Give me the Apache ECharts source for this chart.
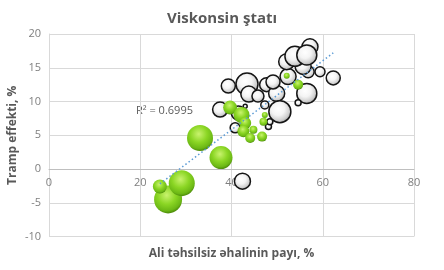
<!DOCTYPE html>
<html>
<head>
<meta charset="utf-8">
<script src="https://cdn.jsdelivr.net/npm/echarts@6/dist/echarts.min.js"></script>
<style>html,body{margin:0;padding:0;background:#fff}#c{width:444px;height:270px}</style>
</head>
<body>
<div id="c"></div>
<script>
// ---- data ----
const titleText = 'Viskonsin ştatı';
const xName = 'Ali təhsilsiz əhalinin payı, %';
const yName = 'Tramp effekti, %';
const r2Text = 'R² = 0.6995';
const xTicks = [0, 20, 40, 60, 80];
const yTicks = [-10, -5, 0, 5, 10, 15, 20];

// white bubbles: x, y, size
const whiteX = [42.4, 39.3, 43.4, 43.8, 47.7, 49.9, 49.1, 52.4, 56.5, 54.6, 50.6, 47.3, 56.8, 57.2, 52.1, 55.7, 53.9, 56.5, 59.4, 62.3, 37.5, 41.5, 43.0, 40.8, 48.1, 48.4, 45.8];
const whiteY = [-1.8, 12.3, 12.6, 11.1, 12.5, 11.2, 12.9, 13.7, 11.2, 9.8, 8.5, 9.5, 14.4, 18.1, 15.9, 15.2, 16.7, 16.9, 14.4, 13.5, 8.8, 8.3, 9.3, 6.1, 6.3, 7.0, 10.8];
const whiteSize = [64, 49, 121, 64, 49, 64, 49, 64, 100, 9, 121, 16, 36, 64, 64, 64, 100, 100, 25, 49, 56, 49, 4, 25, 9, 9, 36];

// green bubbles: x, y, size
const greenX = [26.1, 29.1, 24.3, 33.1, 37.7, 39.7, 42.2, 43.0, 42.6, 44.1, 47.0, 47.3, 44.8, 46.7, 52.1, 54.6];
const greenY = [-4.5, -2.1, -2.6, 4.6, 1.7, 9.1, 8.0, 6.8, 5.6, 4.6, 7.0, 8.0, 5.8, 4.8, 13.8, 12.5];
const greenSize = [196, 169, 49, 169, 132, 49, 64, 36, 36, 25, 16, 9, 16, 25, 9, 25];

// ---- build ----
const white = whiteX.map((x, i) => [x, whiteY[i], whiteSize[i]]);
const green = greenX.map((x, i) => [x, greenY[i], greenSize[i]]);

// linear trendline over all points
const allX = whiteX.concat(greenX), allY = whiteY.concat(greenY);
const n = allX.length;
const mx = allX.reduce((a, b) => a + b, 0) / n, my = allY.reduce((a, b) => a + b, 0) / n;
let sxy = 0, sxx = 0;
for (let i = 0; i < n; i++) { sxy += (allX[i] - mx) * (allY[i] - my); sxx += (allX[i] - mx) ** 2; }
const slope = sxy / sxx, icpt = my - slope * mx;
const x0 = Math.min(...allX), x1 = Math.max(...allX);
const trend = [[x0, icpt + slope * x0], [x1, icpt + slope * x1]];

const W = 444, H = 270;
const gTop = 34, gBottom = 33.5;
const plotH = H - gTop - gBottom;
const yMin = yTicks[0], yMax = yTicks[yTicks.length - 1];
// shift the x axis (line + labels) up to the y = 0 crossing
const zeroOffset = -plotH * (0 - yMin) / (yMax - yMin);

const chart = echarts.init(document.getElementById('c'), null, {renderer: 'canvas'});
const txt = '#595959';
const sz = v => 2 * Math.sqrt(v[2]);

chart.setOption({
  animation: false,
  textStyle: {fontFamily: 'Open Sans, Liberation Sans, sans-serif'},
  title: {
    text: titleText, left: 'center', top: 6,
    textStyle: {fontSize: 15, fontWeight: 'bold', color: txt, fontFamily: 'Open Sans, sans-serif'}
  },
  grid: {left: 49, right: 30, top: gTop, bottom: gBottom, containLabel: false, outerBoundsMode: 'none'},
  xAxis: {
    type: 'value', min: xTicks[0], max: xTicks[xTicks.length - 1], interval: 20,
    position: 'bottom', offset: zeroOffset,
    name: xName, nameLocation: 'middle', nameGap: 79, nameMoveOverlap: false,
    nameTextStyle: {fontSize: 12, fontWeight: 'bold', color: txt},
    axisLine: {show: true, onZero: false, lineStyle: {color: '#bfbfbf', width: 1}},
    axisTick: {show: false},
    axisLabel: {color: '#7f7f7f', fontSize: 11, margin: 8},
    splitLine: {lineStyle: {color: '#d9d9d9', width: 1}}
  },
  yAxis: {
    type: 'value', min: yMin, max: yMax, interval: 5,
    name: yName, nameLocation: 'middle', nameGap: 30, nameMoveOverlap: false,
    nameTextStyle: {fontSize: 12, fontWeight: 'bold', color: txt},
    axisLine: {show: true, onZero: false, lineStyle: {color: '#d9d9d9'}},
    axisTick: {show: false},
    axisLabel: {color: '#7f7f7f', fontSize: 11, margin: 8},
    splitLine: {lineStyle: {color: '#d9d9d9', width: 1}}
  },
  series: [
    {
      type: 'scatter', data: white, symbolSize: sz, silent: true,
      itemStyle: {
        color: {type: 'radial', x: 0.42, y: 0.38, r: 0.62, colorStops: [
          {offset: 0, color: '#ffffff'}, {offset: 0.45, color: '#f4f4f4'},
          {offset: 0.8, color: '#cfcfcf'}, {offset: 1, color: '#9c9c9c'}]},
        borderColor: '#151515', borderWidth: 1.5, opacity: 1
      }
    },
    {
      type: 'scatter', data: green, symbolSize: sz, silent: true,
      itemStyle: {
        color: {type: 'radial', x: 0.45, y: 0.35, r: 0.65, colorStops: [
          {offset: 0, color: '#c9f36e'}, {offset: 0.5, color: '#8bd624'},
          {offset: 0.85, color: '#6cb815'}, {offset: 1, color: '#4c8a0a'}]},
        opacity: 1
      }
    },
    {
      type: 'line', data: trend, symbol: 'none', silent: true, z: 5,
      lineStyle: {color: '#5b9bd5', width: 1.5, type: [1.5, 2.5]}
    }
  ],
  graphic: [{
    type: 'text', left: 136, top: 105, silent: true,
    style: {text: r2Text, fill: txt, fontSize: 11, fontFamily: 'Open Sans, sans-serif'}
  }]
});
</script>
</body>
</html>
